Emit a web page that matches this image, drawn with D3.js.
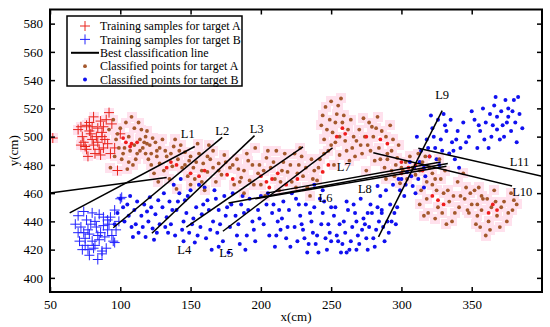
<!DOCTYPE html>
<html>
<head>
<meta charset="utf-8">
<style>
  body { margin: 0; background: #fff; }
  svg { display: block; font-family: 'Liberation Serif', 'Times New Roman', serif; }
</style>
</head>
<body>
<svg width="550" height="327"></svg>

<script src="https://d3js.org/d3.v7.min.js"></script>
<script>
  // ---- data (x cm, y cm) ----
  let xTicks = [50, 100, 150, 200, 250, 300, 350];
  let yTicks = [400, 420, 440, 460, 480, 500, 520, 540, 560, 580];

  let trainA = [
    [52, 499], [92, 517], [81, 514], [72, 507], [76, 508], [86, 511], [88, 507], [79, 502],
    [83, 500], [75, 493], [81, 494], [91, 495], [93, 488], [86, 487], [76, 491], [100, 502],
    [98, 476], [80, 498], [73, 500], [87, 500], [88, 492], [82, 488], [78, 510], [84, 496],
    [70, 505], [74, 496], [78, 504], [84, 506], [89, 498], [94, 509], [77, 486], [85, 491],
    [90, 512], [96, 492], [80, 507], [87, 503], [72, 494]
  ];

  let trainB = [
    [100, 456], [74, 447], [80, 446], [88, 443], [72, 436], [77, 434], [83, 436], [86, 432],
    [75, 428], [80, 426], [91, 434], [95, 426], [73, 420], [81, 421], [87, 417], [70, 432],
    [85, 427], [91, 441], [76, 441], [82, 423], [93, 443], [101, 457], [96, 425], [77, 420],
    [87, 419], [79, 438], [84, 430],
    [68, 438], [71, 426], [74, 432], [78, 431], [82, 440], [85, 445], [89, 429], [92, 438],
    [96, 448], [99, 440], [78, 416], [84, 413], [90, 421], [94, 430], [75, 423], [88, 437],
    [70, 444], [97, 434]
  ];

  let classA = [
    // near training A
    [108, 514], [113, 510], [100, 506], [106, 500], [114, 498], [119, 504], [121, 494], [126, 490],
    [107, 490], [111, 484], [101, 484], [105, 477], [118, 488], [115, 505], [97, 498], [110, 494],
    [123, 499], [103, 492], [116, 492], [112, 488], [96, 486], [99, 492], [120, 484], [125, 496],
    [93, 478], [109, 480], [117, 496], [104, 510], [92, 505], [122, 488],
    [95, 512], [98, 502], [102, 488], [106, 482], [110, 506], [114, 490], [118, 500], [122, 480],
    // around L1 / L2 tops
    [119, 495], [128, 492], [138, 493], [143, 494], [133, 486], [141, 484], [137, 479], [128, 481],
    [124, 474], [156, 488], [159, 481], [164, 484], [152, 478], [162, 475], [153, 470], [158, 468],
    [146, 489], [149, 483], [131, 476], [135, 470], [139, 498], [144, 478], [150, 466], [166, 490],
    [170, 481], [172, 473], [168, 468], [160, 462], [148, 472], [127, 468], [140, 463], [155, 495],
    [174, 487], [130, 498], [163, 494],
    [126, 486], [132, 490], [136, 488], [142, 490], [146, 480], [150, 486], [154, 482], [158, 476],
    [162, 486], [166, 478], [170, 476], [175, 482],
    // L3 - L5 band
    [178, 478], [183, 484], [186, 471], [190, 488], [194, 480], [198, 474], [200, 466], [204, 485],
    [207, 478], [210, 470], [213, 462], [216, 482], [219, 475], [222, 468], [224, 488], [227, 480],
    [230, 472], [233, 464], [236, 484], [238, 476], [240, 469], [181, 466], [188, 460], [196, 492],
    [203, 458], [211, 490], [228, 492], [235, 458], [192, 469], [215, 476], [226, 474], [184, 477],
    [180, 480], [185, 468], [188, 476], [191, 483], [195, 466], [199, 480], [202, 476], [205, 490],
    [209, 482], [214, 468], [217, 488], [221, 480], [225, 464], [229, 486], [232, 478], [237, 470],
    [241, 478],
    // hump near 250
    [246, 521], [255, 522], [254, 516], [249, 512], [243, 508], [258, 510], [262, 505], [251, 503],
    [245, 498], [260, 497], [265, 492], [248, 490], [256, 487], [242, 484], [263, 483], [252, 480],
    [259, 515], [244, 515], [253, 496], [266, 500], [250, 525], [257, 527],
    [245, 488], [247, 505], [250, 494], [253, 510], [256, 500], [261, 490], [264, 512], [267, 486],
    // hump near 285
    [273, 513], [277, 510], [286, 504], [294, 498], [270, 505], [280, 500], [276, 494], [284, 492],
    [290, 488], [297, 485], [272, 488], [281, 483], [288, 478], [300, 478], [275, 476], [292, 508],
    [283, 514], [268, 497], [295, 472], [279, 507],
    [271, 494], [274, 500], [278, 490], [282, 506], [285, 484], [289, 500], [293, 490], [298, 494],
    // crossing point
    [290, 484], [296, 480], [301, 476], [306, 486], [310, 473], [315, 482], [320, 478], [324, 470],
    [289, 470], [299, 467], [312, 488], [318, 468], [327, 484], [304, 470], [293, 476],
    [303, 482], [308, 478], [313, 476], [317, 486], [322, 474],
    // lower right
    [314, 462], [318, 456], [322, 466], [326, 450], [330, 460], [334, 454], [338, 446], [342, 458],
    [346, 464], [350, 452], [354, 444], [319, 446], [328, 470], [336, 440], [344, 474], [313, 452],
    [340, 468], [331, 476], [347, 448], [357, 458],
    [325, 462], [329, 446], [333, 462], [337, 458], [341, 450], [345, 456], [316, 444], [324, 442],
    [332, 438],
    [352, 462], [358, 456], [364, 450], [368, 444], [373, 454], [378, 460], [362, 440], [356, 436],
    [370, 436], [348, 446], [376, 446], [366, 462], [360, 430], [382, 452], [354, 452], [380, 455],
    [349, 460], [353, 438], [357, 448], [361, 456], [363, 434], [367, 454], [371, 450], [375, 440],
    [379, 448], [355, 464]
  ];

  // dense red cores among the A points
  let coreA = [
    [104, 496], [108, 495], [102, 499], [107, 493], [112, 496], [136, 482], [140, 480], [133, 478],
    [150, 474], [156, 472], [160, 476], [200, 472], [204, 468], [208, 470], [212, 474], [218, 466],
    [206, 464], [258, 506], [254, 500], [260, 502], [285, 498], [290, 495], [300, 482], [305, 478],
    [310, 480], [315, 476], [300, 474], [322, 458], [326, 455], [330, 452], [365, 452], [368, 448],
    [362, 446], [176, 473], [180, 470], [244, 475], [248, 480], [226, 470], [320, 486], [275, 500]
  ];

  let classB = [
    [100, 456], [105, 452], [110, 448], [115, 444], [120, 440], [125, 445], [130, 450], [103, 440],
    [108, 436], [113, 432], [118, 429], [123, 435], [128, 438], [133, 443], [98, 446], [106, 444],
    [117, 452], [121, 457], [126, 432], [131, 460], [96, 438], [111, 438], [135, 454],
    [102, 450], [107, 458], [112, 454], [116, 436], [122, 450], [127, 455], [132, 436], [119, 447],
    [109, 429], [124, 427], [134, 432],
    [138, 466], [142, 460], [146, 455], [150, 462], [154, 450], [158, 445], [162, 455], [166, 440],
    [170, 448], [174, 458], [178, 436], [182, 444], [186, 452], [190, 430], [194, 440], [198, 448],
    [140, 448], [145, 440], [149, 432], [153, 425], [157, 436], [161, 428], [165, 420], [169, 432],
    [173, 426], [177, 418], [143, 470], [136, 438], [152, 442], [160, 464], [168, 456], [176, 450],
    [184, 438], [192, 456], [185, 424], [147, 446], [163, 448], [139, 430],
    [137, 448], [141, 454], [144, 434], [148, 458], [151, 438], [155, 430], [159, 452], [164, 434],
    [167, 462], [171, 438], [175, 444], [179, 452], [183, 430], [187, 458], [191, 448], [195, 434],
    [199, 442], [180, 460], [156, 466], [145, 426], [170, 422], [189, 420],
    [200, 458], [204, 452], [208, 446], [212, 440], [216, 454], [220, 448], [224, 436], [228, 444],
    [232, 452], [236, 440], [240, 430], [244, 446], [248, 438], [202, 438], [206, 430], [210, 422],
    [214, 434], [218, 428], [222, 460], [226, 426], [230, 434], [234, 424], [238, 450], [242, 456],
    [246, 428], [196, 426], [188, 446], [213, 448], [227, 452], [250, 450], [237, 432],
    [205, 460], [209, 452], [211, 430], [215, 442], [219, 436], [221, 422], [225, 456], [229, 438],
    [231, 428], [235, 446], [239, 424], [243, 438], [245, 454], [249, 432], [233, 418], [241, 418],
    [244, 462], [238, 466],
    [252, 444], [256, 438], [260, 432], [264, 426], [268, 440], [272, 434], [276, 446], [280, 428],
    [284, 440], [254, 430], [258, 424], [262, 448], [266, 452], [270, 424], [274, 438], [278, 452],
    [282, 434], [286, 446], [288, 426], [250, 426], [257, 418], [247, 420], [263, 420],
    [253, 450], [255, 426], [259, 440], [261, 454], [265, 436], [267, 446], [269, 430], [271, 456],
    [273, 442], [275, 428], [277, 436], [279, 446], [281, 422], [283, 450], [287, 436], [261, 418],
    [268, 420], [276, 420],
    [285, 458], [289, 462], [292, 452], [295, 446], [290, 440], [286, 448], [294, 466], [298, 470],
    [283, 465], [291, 432], [296, 438], [293, 440], [297, 450], [299, 462],
    [300, 470], [304, 475], [308, 465], [312, 470], [310, 460], [316, 478], [320, 486], [324, 492],
    [328, 498], [332, 504], [318, 498], [322, 506], [326, 512], [330, 516], [336, 496], [340, 504],
    [334, 488], [314, 490], [306, 482], [338, 484], [342, 492], [327, 480], [302, 458], [316, 464],
    [321, 515], [311, 500],
    [303, 466], [307, 472], [309, 478], [313, 482], [317, 472], [319, 492], [323, 500], [325, 484],
    [329, 490], [331, 508], [335, 512], [337, 490], [339, 498], [341, 478],
    [356, 504], [360, 510], [364, 500], [368, 514], [372, 508], [376, 520], [380, 526], [374, 526],
    [358, 520], [352, 512], [366, 522], [370, 498], [378, 504], [384, 516], [362, 492], [348, 500],
    [382, 496], [354, 492], [376, 514], [368, 505],
    [344, 510], [346, 496], [350, 518], [355, 508], [359, 498], [363, 516], [365, 508], [367, 528],
    [371, 518], [373, 500], [375, 510], [379, 518], [381, 510], [383, 528], [386, 506]
  ];

  // classification lines: [x1, y1, x2, y2]
  let lineNames = ["", "L1", "L2", "L3", "L4", "L5", "L6", "L7", "L8", "L9", "L10", "L11"];
  let lineEnds = [
    [50, 460, 133, 471],
    [64, 446, 153, 493],
    [95, 435.5, 172.5, 499.5],
    [122.5, 431.6, 195.5, 500.7],
    [147, 436, 230, 492.7],
    [173, 433, 251, 492],
    [177, 453, 333, 481],
    [204, 460, 328, 482],
    [196, 456, 332, 479],
    [283.7, 429, 329, 518.4],
    [280, 488.6, 378.7, 465],
    [312, 491.7, 400, 472]
  ];
  // where each label sits (data units)
  let labelAt = [
    null, [148, 502], [172.5, 504], [197, 506], [145.5, 420], [175.4, 418],
    [246, 457], [259, 479], [274, 463], [329, 530], [386, 461], [384, 482]
  ];

  let legendItems = [
    "Training samples for target A",
    "Training samples for target B",
    "Best classification line",
    "Classified points for target A",
    "Classified points for target B"
  ];

  // ---- chart ----
  let svg = d3.select("svg");
  let pLeft = 50, pRight = 542, pTop = 9.5, pBottom = 292;

  let x = d3.scaleLinear().domain([50, 400]).range([pLeft, pRight]);
  let y = d3.scaleLinear().domain([390, 590]).range([pBottom, pTop]);

  svg.append("defs").append("clipPath").attr("id", "plot")
    .append("rect")
    .attr("x", pLeft).attr("y", pTop)
    .attr("width", pRight - pLeft).attr("height", pBottom - pTop);

  let plot = svg.append("g").attr("clip-path", "url(#plot)");

  // pink shading behind target A points
  plot.append("g")
    .attr("shape-rendering", "crispEdges")
    .selectAll("rect")
    .data(classA.concat(trainA))
    .join("rect")
    .attr("x", d => Math.round(x(d[0])) - 5)
    .attr("y", d => Math.round(y(d[1])) - 5)
    .attr("width", 10)
    .attr("height", 10)
    .attr("fill", "#ffe1ed")

  let cross = "M-5,0H5M0,-5V5";

  plot.append("g")
    .selectAll("path")
    .data(trainB)
    .join("path")
    .attr("d", cross)
    .attr("transform", d => `translate(${x(d[0])},${y(d[1])})`)
    .attr("stroke", "#2222ff")
    .attr("stroke-width", 1)

  plot.append("g")
    .selectAll("path")
    .data(trainA)
    .join("path")
    .attr("d", cross)
    .attr("transform", d => `translate(${x(d[0])},${y(d[1])})`)
    .attr("stroke", "#e8241c")
    .attr("stroke-width", 1)

  plot.append("g")
    .selectAll("circle")
    .data(classB)
    .join("circle")
    .attr("cx", d => x(d[0]))
    .attr("cy", d => y(d[1]))
    .attr("r", 2)
    .attr("fill", "#1010f0")

  plot.append("g")
    .selectAll("circle")
    .data(classA)
    .join("circle")
    .attr("cx", d => x(d[0]))
    .attr("cy", d => y(d[1]))
    .attr("r", 1.9)
    .attr("fill", "#a4582c")

  plot.append("g")
    .selectAll("circle")
    .data(coreA)
    .join("circle")
    .attr("cx", d => x(d[0]))
    .attr("cy", d => y(d[1]))
    .attr("r", 1.9)
    .attr("fill", "#f01c1c")

  // best classification lines
  plot.append("g")
    .selectAll("line")
    .data(lineEnds)
    .join("line")
    .attr("x1", d => x(d[0]))
    .attr("y1", d => y(d[1]))
    .attr("x2", d => x(d[2]))
    .attr("y2", d => y(d[3]))
    .attr("stroke", "#000")
    .attr("stroke-width", 1.5)

  svg.append("g")
    .selectAll("text")
    .data(lineNames.map((n, i) => ({ n, p: labelAt[i] })).filter(d => d.p))
    .join("text")
    .attr("x", d => x(d.p[0]))
    .attr("y", d => y(d.p[1]))
    .attr("text-anchor", "middle")
    .attr("dy", "0.35em")
    .style("font-size", "12.5px")
    .text(d => d.n)

  // axes, ticks pointing inwards on all four sides
  let tickStyle = g => {
    g.attr("font-family", null);
    g.select(".domain").remove();
    g.selectAll(".tick line").attr("stroke-width", 1.5);
    g.selectAll("text").style("font-size", "13px").attr("fill", "#000");
  };

  svg.append("g").attr("transform", `translate(0,${pBottom})`)
    .call(d3.axisBottom(x).tickValues(xTicks).tickSizeInner(-5).tickSizeOuter(0).tickPadding(8))
    .call(tickStyle);
  svg.append("g").attr("transform", `translate(0,${pTop})`)
    .call(d3.axisTop(x).tickValues(xTicks).tickSizeInner(-5).tickSizeOuter(0).tickFormat(""))
    .call(tickStyle);
  svg.append("g").attr("transform", `translate(${pLeft},0)`)
    .call(d3.axisLeft(y).tickValues(yTicks).tickSizeInner(-5).tickSizeOuter(0).tickPadding(7))
    .call(tickStyle);
  svg.append("g").attr("transform", `translate(${pRight},0)`)
    .call(d3.axisRight(y).tickValues(yTicks).tickSizeInner(-5).tickSizeOuter(0).tickFormat(""))
    .call(tickStyle);

  svg.append("rect")
    .attr("x", pLeft).attr("y", pTop)
    .attr("width", pRight - pLeft).attr("height", pBottom - pTop)
    .attr("fill", "none")
    .attr("stroke", "#000")
    .attr("stroke-width", 2)

  svg.append("text")
    .attr("x", (pLeft + pRight) / 2)
    .attr("y", 321)
    .attr("text-anchor", "middle")
    .style("font-size", "13px")
    .text("x(cm)")

  svg.append("text")
    .attr("transform", `translate(18,${(pTop + pBottom) / 2}) rotate(-90)`)
    .attr("text-anchor", "middle")
    .style("font-size", "13px")
    .text("y(cm)")

  // legend
  let legend = svg.append("g");
  legend.append("rect")
    .attr("x", 67).attr("y", 16)
    .attr("width", 175).attr("height", 70)
    .attr("fill", "#fff")
    .attr("stroke", "#000")
    .attr("stroke-width", 1.5)

  let rowY = i => 26 + i * 13.4;

  legend.selectAll("text")
    .data(legendItems)
    .join("text")
    .attr("x", 100)
    .attr("y", (d, i) => rowY(i))
    .attr("dy", "0.35em")
    .style("font-size", "12px")
    .text(d => d)

  legend.append("path").attr("d", cross)
    .attr("transform", `translate(85,${rowY(0)})`)
    .attr("stroke", "#e8241c")
  legend.append("path").attr("d", cross)
    .attr("transform", `translate(85,${rowY(1)})`)
    .attr("stroke", "#2222ff")
  legend.append("line")
    .attr("x1", 71).attr("x2", 99)
    .attr("y1", rowY(2)).attr("y2", rowY(2))
    .attr("stroke", "#000").attr("stroke-width", 2)
  legend.append("circle")
    .attr("cx", 85).attr("cy", rowY(3)).attr("r", 1.9)
    .attr("fill", "#a4582c")
  legend.append("circle")
    .attr("cx", 85).attr("cy", rowY(4)).attr("r", 2)
    .attr("fill", "#1010f0")
</script>
</body>
</html>
